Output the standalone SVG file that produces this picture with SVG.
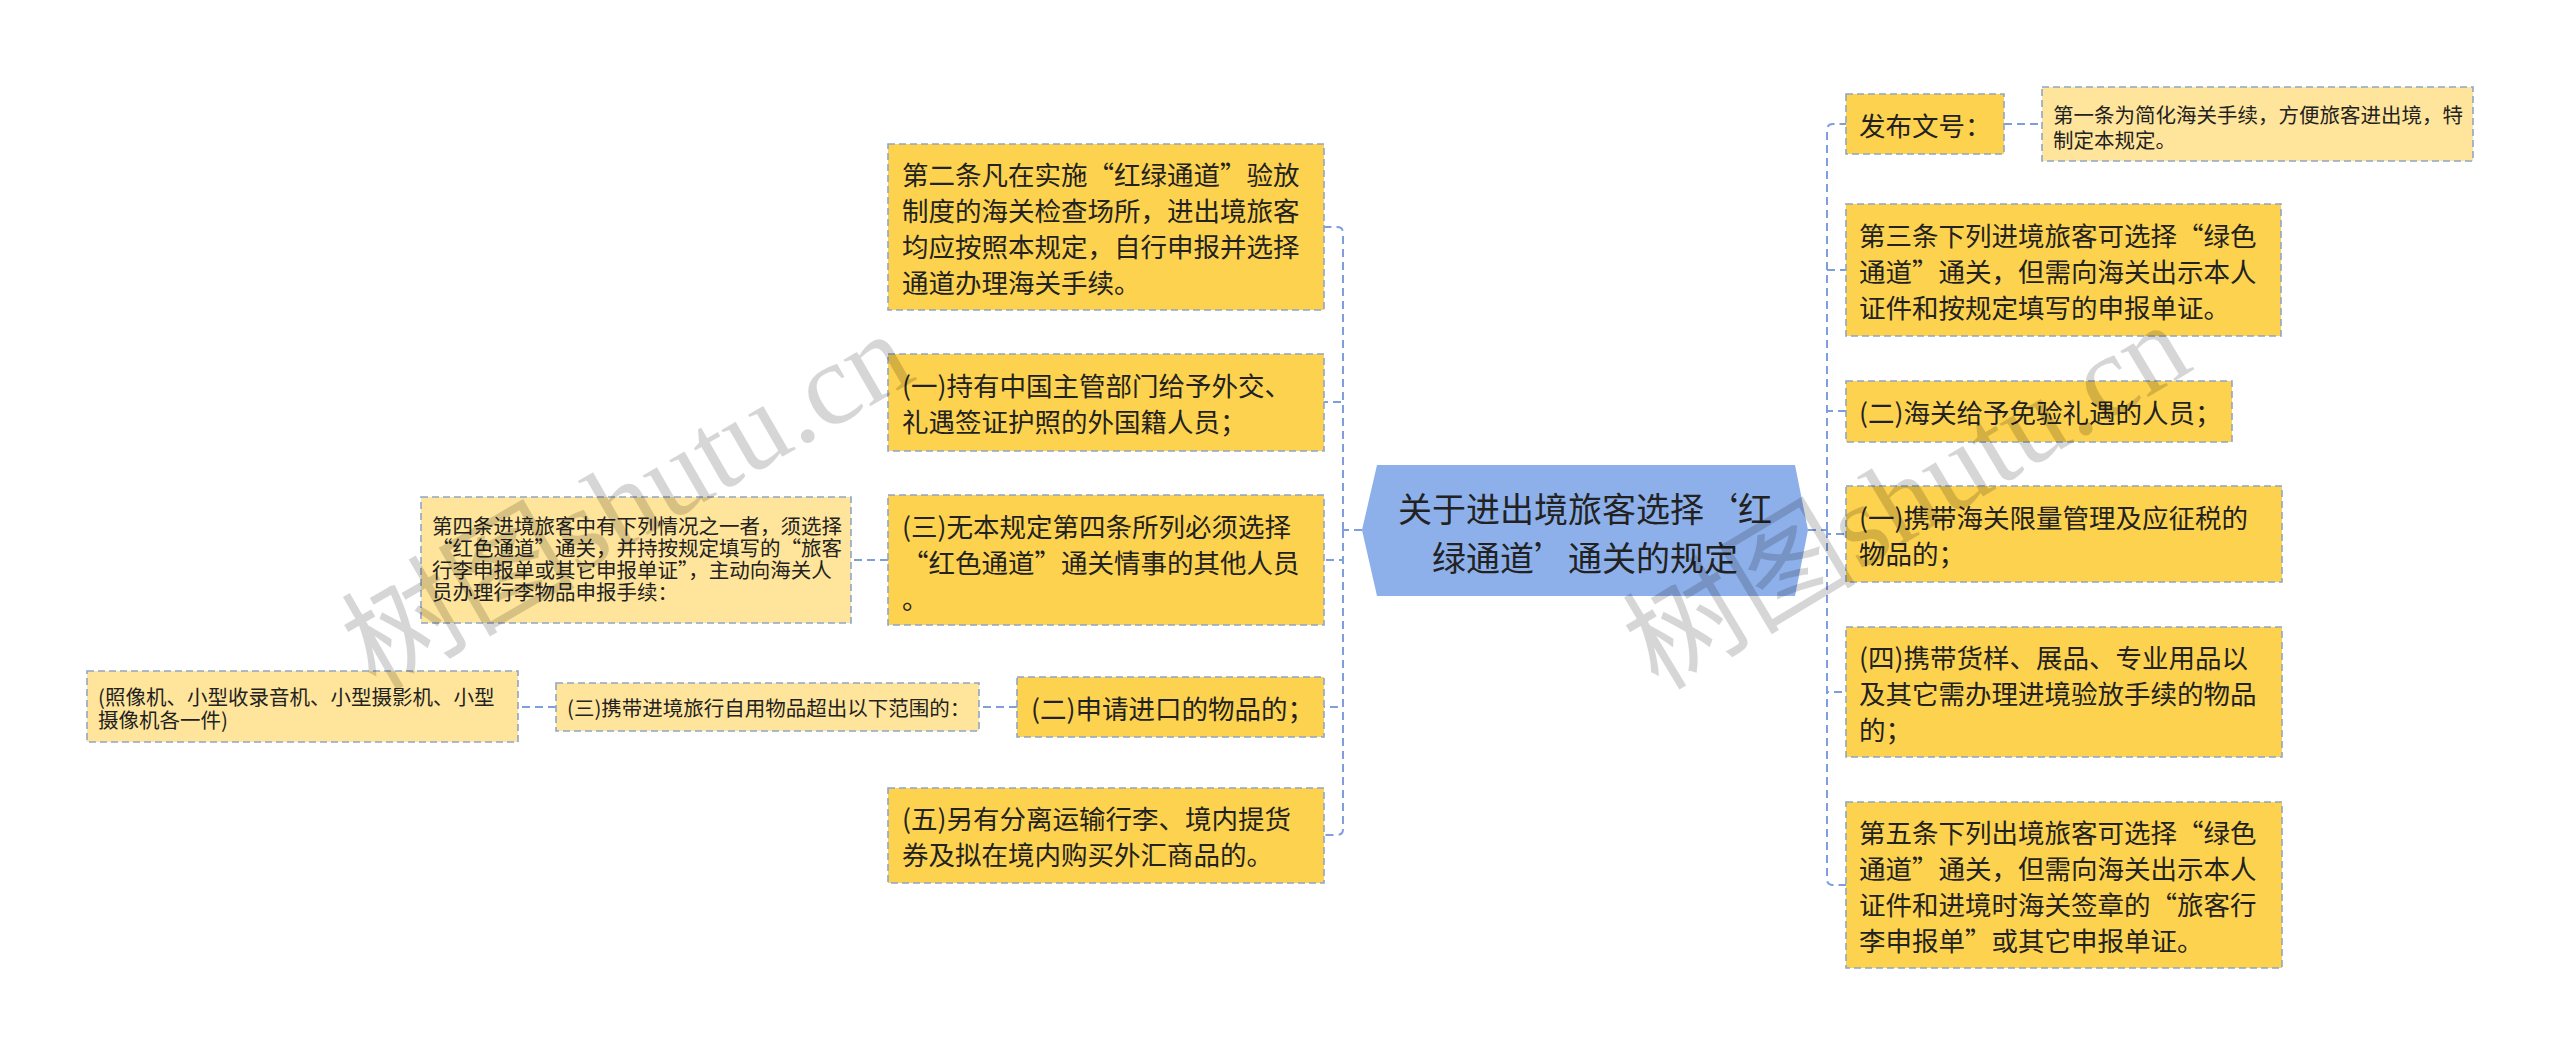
<svg xmlns="http://www.w3.org/2000/svg" width="2560" height="1057" viewBox="0 0 2560 1057">
<style>
  .bg { fill: #ffffff; }
  .n { fill: #FDD24F; stroke: #8FA5C8; stroke-width: 1.6; stroke-dasharray: 7 4; }
  .l { fill: #FFE59B; stroke: #8FA5C8; stroke-width: 1.6; stroke-dasharray: 7 4; }
  .c { fill: #8DB0EA; }
  .t { font-family: "Noto Sans CJK SC", "Microsoft YaHei", sans-serif; fill: #222222; dominant-baseline: central; }
  .big { font-size: 26.5px; }
  .sm { font-size: 20.5px; }
  .ct { font-size: 34px; text-anchor: middle; }
  .conn path { fill: none; stroke: #7E9FDC; stroke-width: 2; stroke-dasharray: 8 5; }
  .wm { font-size: 117px; fill: #000000; fill-opacity: 0.16; text-anchor: middle; }
  .wm .cj { font-family: "Noto Sans CJK SC", sans-serif; }
  .wm .la { font-family: "Liberation Serif", serif; }
</style>
<rect class="bg" x="0" y="0" width="2560" height="1057"/>

<g id="connectors" class="conn">
  <path d="M1362,530 H1343"/>
  <path d="M1343,530 V233 Q1343,227 1337,227 H1324"/>
  <path d="M1343,530 V402 H1324"/>
  <path d="M1343,530 V560 H1324"/>
  <path d="M1343,530 V707 H1324"/>
  <path d="M1343,530 V829 Q1343,835 1337,835 H1324"/>
  <path d="M888,560 H851"/>
  <path d="M1017,707 H979"/>
  <path d="M556,707 H518"/>
  <path d="M1808,530 H1827"/>
  <path d="M1827,530 V130 Q1827,124 1833,124 H1846"/>
  <path d="M1827,530 V270 H1846"/>
  <path d="M1827,530 V411 H1846"/>
  <path d="M1827,530 V534 H1846"/>
  <path d="M1827,530 V692 H1846"/>
  <path d="M1827,530 V879 Q1827,885 1833,885 H1846"/>
  <path d="M2004,124 H2042"/>
</g>

<g id="center">
  <polygon class="c" points="1377,465 1795,465 1808,530 1795,596 1377,596 1362,530"/>
  <text class="t ct" x="1585"><tspan x="1585" y="507">关于进出境旅客选择‘红</tspan><tspan x="1585" y="556">绿通道’通关的规定</tspan></text>
</g>

<g id="node-l1">
  <rect class="n" x="888" y="144" width="436" height="166"/>
  <text class="t big"><tspan x="902" y="173">第二条凡在实施“红绿通道”验放</tspan><tspan x="902" y="209">制度的海关检查场所，进出境旅客</tspan><tspan x="902" y="245">均应按照本规定，自行申报并选择</tspan><tspan x="902" y="281">通道办理海关手续。</tspan></text>
</g>

<g id="node-l2">
  <rect class="n" x="888" y="354" width="436" height="97"/>
  <text class="t big"><tspan x="902" y="384">(一)持有中国主管部门给予外交、</tspan><tspan x="902" y="420">礼遇签证护照的外国籍人员；</tspan></text>
</g>

<g id="node-l3">
  <rect class="n" x="888" y="495" width="436" height="130"/>
  <text class="t big"><tspan x="902" y="525">(三)无本规定第四条所列必须选择</tspan><tspan x="902" y="561">“红色通道”通关情事的其他人员</tspan><tspan x="902" y="597">。</tspan></text>
</g>

<g id="node-l3a">
  <rect class="l" x="421" y="497" width="430" height="126"/>
  <text class="t sm"><tspan x="432" y="525">第四条进境旅客中有下列情况之一者，须选择</tspan><tspan x="432" y="547">“红色通道”通关，并持按规定填写的“旅客</tspan><tspan x="432" y="569">行李申报单或其它申报单证”，主动向海关人</tspan><tspan x="432" y="591">员办理行李物品申报手续：</tspan></text>
</g>

<g id="node-l4">
  <rect class="n" x="1017" y="677" width="307" height="60"/>
  <text class="t big"><tspan x="1031" y="707">(二)申请进口的物品的；</tspan></text>
</g>

<g id="node-l4a">
  <rect class="l" x="556" y="683" width="423" height="48"/>
  <text class="t sm"><tspan x="567" y="707">(三)携带进境旅行自用物品超出以下范围的：</tspan></text>
</g>

<g id="node-l4b">
  <rect class="l" x="87" y="671" width="431" height="71"/>
  <text class="t sm"><tspan x="98" y="696">(照像机、小型收录音机、小型摄影机、小型</tspan><tspan x="98" y="719">摄像机各一件)</tspan></text>
</g>

<g id="node-l5">
  <rect class="n" x="888" y="788" width="436" height="95"/>
  <text class="t big"><tspan x="902" y="817">(五)另有分离运输行李、境内提货</tspan><tspan x="902" y="853">券及拟在境内购买外汇商品的。</tspan></text>
</g>

<g id="node-r1">
  <rect class="n" x="1846" y="94" width="158" height="60"/>
  <text class="t big"><tspan x="1859" y="124">发布文号：</tspan></text>
</g>

<g id="node-r1a">
  <rect class="l" x="2042" y="87" width="431" height="74"/>
  <text class="t sm"><tspan x="2053" y="114">第一条为简化海关手续，方便旅客进出境，特</tspan><tspan x="2053" y="139">制定本规定。</tspan></text>
</g>

<g id="node-r2">
  <rect class="n" x="1846" y="204" width="435" height="132"/>
  <text class="t big"><tspan x="1859" y="234">第三条下列进境旅客可选择“绿色</tspan><tspan x="1859" y="270">通道”通关，但需向海关出示本人</tspan><tspan x="1859" y="306">证件和按规定填写的申报单证。</tspan></text>
</g>

<g id="node-r3">
  <rect class="n" x="1846" y="381" width="386" height="61"/>
  <text class="t big"><tspan x="1859" y="411">(二)海关给予免验礼遇的人员；</tspan></text>
</g>

<g id="node-r4">
  <rect class="n" x="1846" y="486" width="436" height="96"/>
  <text class="t big"><tspan x="1859" y="516">(一)携带海关限量管理及应征税的</tspan><tspan x="1859" y="552">物品的；</tspan></text>
</g>

<g id="node-r5">
  <rect class="n" x="1846" y="627" width="436" height="130"/>
  <text class="t big"><tspan x="1859" y="656">(四)携带货样、展品、专业用品以</tspan><tspan x="1859" y="692">及其它需办理进境验放手续的物品</tspan><tspan x="1859" y="728">的；</tspan></text>
</g>

<g id="node-r6">
  <rect class="n" x="1846" y="802" width="436" height="166"/>
  <text class="t big"><tspan x="1859" y="831">第五条下列出境旅客可选择“绿色</tspan><tspan x="1859" y="867">通道”通关，但需向海关出示本人</tspan><tspan x="1859" y="903">证件和进境时海关签章的“旅客行</tspan><tspan x="1859" y="939">李申报单”或其它申报单证。</tspan></text>
</g>

<g id="watermarks">
  <text class="wm" transform="translate(647,535) rotate(-30)"><tspan class="cj">树图</tspan><tspan class="la">shutu.cn</tspan></text>
  <text class="wm" transform="translate(1927,530) rotate(-31)"><tspan class="cj">树图</tspan><tspan class="la">shutu.cn</tspan></text>
</g>
</svg>
